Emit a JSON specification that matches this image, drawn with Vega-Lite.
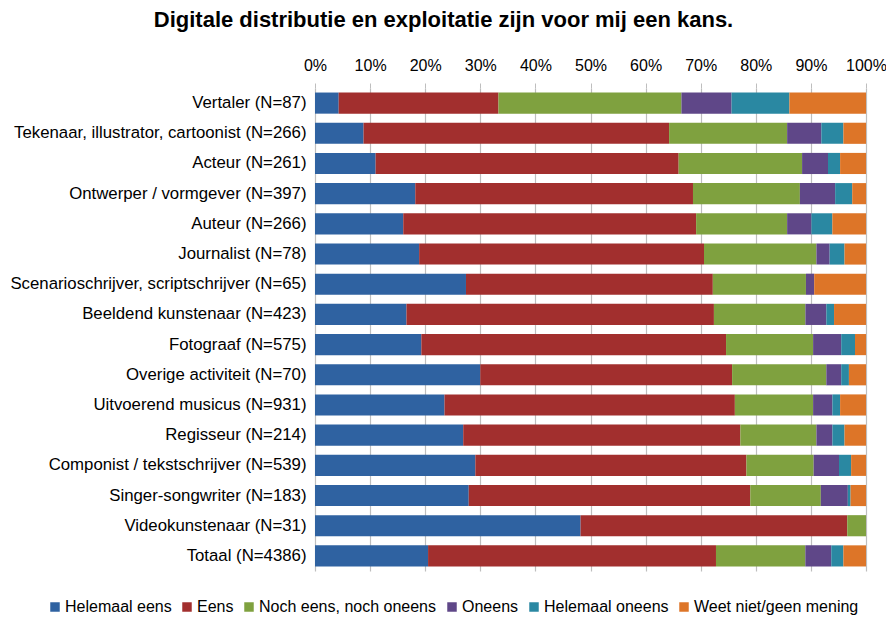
{
  "$schema": "https://vega.github.io/schema/vega-lite/v6.json",
  "width": 551,
  "height": 483,
  "autosize": "none",
  "padding": {"left": 315, "top": 88, "right": 20, "bottom": 52},
  "background": "white",
  "title": {
    "text": "Digitale distributie en exploitatie zijn voor mij een kans.",
    "font": "Liberation Sans",
    "fontSize": 22,
    "fontWeight": "bold",
    "color": "#000000",
    "anchor": "middle",
    "dx": -147,
    "offset": 25
  },
  "datasets": {
    "d": [
      {"cat": "Vertaler (N=87)", "r": 1, "s": "Helemaal eens", "o": 1, "v": 4.3},
      {"cat": "Vertaler (N=87)", "r": 1, "s": "Eens", "o": 2, "v": 29.0},
      {"cat": "Vertaler (N=87)", "r": 1, "s": "Noch eens, noch oneens", "o": 3, "v": 33.2},
      {"cat": "Vertaler (N=87)", "r": 1, "s": "Oneens", "o": 4, "v": 9.1},
      {"cat": "Vertaler (N=87)", "r": 1, "s": "Helemaal oneens", "o": 5, "v": 10.5},
      {"cat": "Vertaler (N=87)", "r": 1, "s": "Weet niet/geen mening", "o": 6, "v": 13.9},

      {"cat": "Tekenaar, illustrator, cartoonist (N=266)", "r": 2, "s": "Helemaal eens", "o": 1, "v": 8.8},
      {"cat": "Tekenaar, illustrator, cartoonist (N=266)", "r": 2, "s": "Eens", "o": 2, "v": 55.4},
      {"cat": "Tekenaar, illustrator, cartoonist (N=266)", "r": 2, "s": "Noch eens, noch oneens", "o": 3, "v": 21.4},
      {"cat": "Tekenaar, illustrator, cartoonist (N=266)", "r": 2, "s": "Oneens", "o": 4, "v": 6.2},
      {"cat": "Tekenaar, illustrator, cartoonist (N=266)", "r": 2, "s": "Helemaal oneens", "o": 5, "v": 4.0},
      {"cat": "Tekenaar, illustrator, cartoonist (N=266)", "r": 2, "s": "Weet niet/geen mening", "o": 6, "v": 4.1},

      {"cat": "Acteur (N=261)", "r": 3, "s": "Helemaal eens", "o": 1, "v": 11.0},
      {"cat": "Acteur (N=261)", "r": 3, "s": "Eens", "o": 2, "v": 55.0},
      {"cat": "Acteur (N=261)", "r": 3, "s": "Noch eens, noch oneens", "o": 3, "v": 22.4},
      {"cat": "Acteur (N=261)", "r": 3, "s": "Oneens", "o": 4, "v": 4.7},
      {"cat": "Acteur (N=261)", "r": 3, "s": "Helemaal oneens", "o": 5, "v": 2.2},
      {"cat": "Acteur (N=261)", "r": 3, "s": "Weet niet/geen mening", "o": 6, "v": 4.7},

      {"cat": "Ontwerper / vormgever (N=397)", "r": 4, "s": "Helemaal eens", "o": 1, "v": 18.2},
      {"cat": "Ontwerper / vormgever (N=397)", "r": 4, "s": "Eens", "o": 2, "v": 50.4},
      {"cat": "Ontwerper / vormgever (N=397)", "r": 4, "s": "Noch eens, noch oneens", "o": 3, "v": 19.4},
      {"cat": "Ontwerper / vormgever (N=397)", "r": 4, "s": "Oneens", "o": 4, "v": 6.4},
      {"cat": "Ontwerper / vormgever (N=397)", "r": 4, "s": "Helemaal oneens", "o": 5, "v": 3.1},
      {"cat": "Ontwerper / vormgever (N=397)", "r": 4, "s": "Weet niet/geen mening", "o": 6, "v": 2.5},

      {"cat": "Auteur (N=266)", "r": 5, "s": "Helemaal eens", "o": 1, "v": 16.0},
      {"cat": "Auteur (N=266)", "r": 5, "s": "Eens", "o": 2, "v": 53.1},
      {"cat": "Auteur (N=266)", "r": 5, "s": "Noch eens, noch oneens", "o": 3, "v": 16.5},
      {"cat": "Auteur (N=266)", "r": 5, "s": "Oneens", "o": 4, "v": 4.4},
      {"cat": "Auteur (N=266)", "r": 5, "s": "Helemaal oneens", "o": 5, "v": 3.8},
      {"cat": "Auteur (N=266)", "r": 5, "s": "Weet niet/geen mening", "o": 6, "v": 6.1},

      {"cat": "Journalist (N=78)", "r": 6, "s": "Helemaal eens", "o": 1, "v": 18.9},
      {"cat": "Journalist (N=78)", "r": 6, "s": "Eens", "o": 2, "v": 51.7},
      {"cat": "Journalist (N=78)", "r": 6, "s": "Noch eens, noch oneens", "o": 3, "v": 20.4},
      {"cat": "Journalist (N=78)", "r": 6, "s": "Oneens", "o": 4, "v": 2.4},
      {"cat": "Journalist (N=78)", "r": 6, "s": "Helemaal oneens", "o": 5, "v": 2.7},
      {"cat": "Journalist (N=78)", "r": 6, "s": "Weet niet/geen mening", "o": 6, "v": 3.9},

      {"cat": "Scenarioschrijver, scriptschrijver (N=65)", "r": 7, "s": "Helemaal eens", "o": 1, "v": 27.4},
      {"cat": "Scenarioschrijver, scriptschrijver (N=65)", "r": 7, "s": "Eens", "o": 2, "v": 44.8},
      {"cat": "Scenarioschrijver, scriptschrijver (N=65)", "r": 7, "s": "Noch eens, noch oneens", "o": 3, "v": 16.9},
      {"cat": "Scenarioschrijver, scriptschrijver (N=65)", "r": 7, "s": "Oneens", "o": 4, "v": 1.5},
      {"cat": "Scenarioschrijver, scriptschrijver (N=65)", "r": 7, "s": "Helemaal oneens", "o": 5, "v": 0},
      {"cat": "Scenarioschrijver, scriptschrijver (N=65)", "r": 7, "s": "Weet niet/geen mening", "o": 6, "v": 9.4},

      {"cat": "Beeldend kunstenaar (N=423)", "r": 8, "s": "Helemaal eens", "o": 1, "v": 16.6},
      {"cat": "Beeldend kunstenaar (N=423)", "r": 8, "s": "Eens", "o": 2, "v": 55.8},
      {"cat": "Beeldend kunstenaar (N=423)", "r": 8, "s": "Noch eens, noch oneens", "o": 3, "v": 16.6},
      {"cat": "Beeldend kunstenaar (N=423)", "r": 8, "s": "Oneens", "o": 4, "v": 3.8},
      {"cat": "Beeldend kunstenaar (N=423)", "r": 8, "s": "Helemaal oneens", "o": 5, "v": 1.4},
      {"cat": "Beeldend kunstenaar (N=423)", "r": 8, "s": "Weet niet/geen mening", "o": 6, "v": 5.8},

      {"cat": "Fotograaf (N=575)", "r": 9, "s": "Helemaal eens", "o": 1, "v": 19.3},
      {"cat": "Fotograaf (N=575)", "r": 9, "s": "Eens", "o": 2, "v": 55.3},
      {"cat": "Fotograaf (N=575)", "r": 9, "s": "Noch eens, noch oneens", "o": 3, "v": 15.8},
      {"cat": "Fotograaf (N=575)", "r": 9, "s": "Oneens", "o": 4, "v": 5.1},
      {"cat": "Fotograaf (N=575)", "r": 9, "s": "Helemaal oneens", "o": 5, "v": 2.5},
      {"cat": "Fotograaf (N=575)", "r": 9, "s": "Weet niet/geen mening", "o": 6, "v": 2.0},

      {"cat": "Overige activiteit (N=70)", "r": 10, "s": "Helemaal eens", "o": 1, "v": 30.0},
      {"cat": "Overige activiteit (N=70)", "r": 10, "s": "Eens", "o": 2, "v": 45.7},
      {"cat": "Overige activiteit (N=70)", "r": 10, "s": "Noch eens, noch oneens", "o": 3, "v": 17.1},
      {"cat": "Overige activiteit (N=70)", "r": 10, "s": "Oneens", "o": 4, "v": 2.7},
      {"cat": "Overige activiteit (N=70)", "r": 10, "s": "Helemaal oneens", "o": 5, "v": 1.4},
      {"cat": "Overige activiteit (N=70)", "r": 10, "s": "Weet niet/geen mening", "o": 6, "v": 3.1},

      {"cat": "Uitvoerend musicus (N=931)", "r": 11, "s": "Helemaal eens", "o": 1, "v": 23.5},
      {"cat": "Uitvoerend musicus (N=931)", "r": 11, "s": "Eens", "o": 2, "v": 52.7},
      {"cat": "Uitvoerend musicus (N=931)", "r": 11, "s": "Noch eens, noch oneens", "o": 3, "v": 14.2},
      {"cat": "Uitvoerend musicus (N=931)", "r": 11, "s": "Oneens", "o": 4, "v": 3.5},
      {"cat": "Uitvoerend musicus (N=931)", "r": 11, "s": "Helemaal oneens", "o": 5, "v": 1.4},
      {"cat": "Uitvoerend musicus (N=931)", "r": 11, "s": "Weet niet/geen mening", "o": 6, "v": 4.7},

      {"cat": "Regisseur (N=214)", "r": 12, "s": "Helemaal eens", "o": 1, "v": 26.9},
      {"cat": "Regisseur (N=214)", "r": 12, "s": "Eens", "o": 2, "v": 50.3},
      {"cat": "Regisseur (N=214)", "r": 12, "s": "Noch eens, noch oneens", "o": 3, "v": 13.8},
      {"cat": "Regisseur (N=214)", "r": 12, "s": "Oneens", "o": 4, "v": 2.9},
      {"cat": "Regisseur (N=214)", "r": 12, "s": "Helemaal oneens", "o": 5, "v": 2.2},
      {"cat": "Regisseur (N=214)", "r": 12, "s": "Weet niet/geen mening", "o": 6, "v": 3.9},

      {"cat": "Componist / tekstschrijver (N=539)", "r": 13, "s": "Helemaal eens", "o": 1, "v": 29.1},
      {"cat": "Componist / tekstschrijver (N=539)", "r": 13, "s": "Eens", "o": 2, "v": 49.2},
      {"cat": "Componist / tekstschrijver (N=539)", "r": 13, "s": "Noch eens, noch oneens", "o": 3, "v": 12.2},
      {"cat": "Componist / tekstschrijver (N=539)", "r": 13, "s": "Oneens", "o": 4, "v": 4.6},
      {"cat": "Componist / tekstschrijver (N=539)", "r": 13, "s": "Helemaal oneens", "o": 5, "v": 2.2},
      {"cat": "Componist / tekstschrijver (N=539)", "r": 13, "s": "Weet niet/geen mening", "o": 6, "v": 2.7},

      {"cat": "Singer-songwriter (N=183)", "r": 14, "s": "Helemaal eens", "o": 1, "v": 27.9},
      {"cat": "Singer-songwriter (N=183)", "r": 14, "s": "Eens", "o": 2, "v": 51.1},
      {"cat": "Singer-songwriter (N=183)", "r": 14, "s": "Noch eens, noch oneens", "o": 3, "v": 12.8},
      {"cat": "Singer-songwriter (N=183)", "r": 14, "s": "Oneens", "o": 4, "v": 4.9},
      {"cat": "Singer-songwriter (N=183)", "r": 14, "s": "Helemaal oneens", "o": 5, "v": 0.5},
      {"cat": "Singer-songwriter (N=183)", "r": 14, "s": "Weet niet/geen mening", "o": 6, "v": 2.8},

      {"cat": "Videokunstenaar (N=31)", "r": 15, "s": "Helemaal eens", "o": 1, "v": 48.2},
      {"cat": "Videokunstenaar (N=31)", "r": 15, "s": "Eens", "o": 2, "v": 48.4},
      {"cat": "Videokunstenaar (N=31)", "r": 15, "s": "Noch eens, noch oneens", "o": 3, "v": 3.4},
      {"cat": "Videokunstenaar (N=31)", "r": 15, "s": "Oneens", "o": 4, "v": 0},
      {"cat": "Videokunstenaar (N=31)", "r": 15, "s": "Helemaal oneens", "o": 5, "v": 0},
      {"cat": "Videokunstenaar (N=31)", "r": 15, "s": "Weet niet/geen mening", "o": 6, "v": 0},

      {"cat": "Totaal (N=4386)", "r": 16, "s": "Helemaal eens", "o": 1, "v": 20.5},
      {"cat": "Totaal (N=4386)", "r": 16, "s": "Eens", "o": 2, "v": 52.2},
      {"cat": "Totaal (N=4386)", "r": 16, "s": "Noch eens, noch oneens", "o": 3, "v": 16.2},
      {"cat": "Totaal (N=4386)", "r": 16, "s": "Oneens", "o": 4, "v": 4.7},
      {"cat": "Totaal (N=4386)", "r": 16, "s": "Helemaal oneens", "o": 5, "v": 2.2},
      {"cat": "Totaal (N=4386)", "r": 16, "s": "Weet niet/geen mening", "o": 6, "v": 4.1}
    ]
  },
  "data": {"name": "d"},
  "mark": {"type": "bar", "stroke": null},
  "encoding": {
    "y": {
      "field": "cat",
      "type": "nominal",
      "sort": {"field": "r", "op": "min", "order": "ascending"},
      "scale": {"paddingInner": 0.3, "paddingOuter": 0.15},
      "axis": {
        "title": null,
        "domain": false,
        "ticks": false,
        "grid": false,
        "labelFont": "Liberation Sans",
        "labelFontSize": 16.8,
        "labelColor": "#000000",
        "labelPadding": 9,
        "labelLimit": 320
      }
    },
    "x": {
      "field": "v",
      "type": "quantitative",
      "stack": "normalize",
      "scale": {"domain": [0, 1], "nice": false},
      "axis": {
        "orient": "top",
        "title": null,
        "format": ".0%",
        "values": [0, 0.1, 0.2, 0.3, 0.4, 0.5, 0.6, 0.7, 0.8, 0.9, 1],
        "domain": false,
        "grid": true,
        "gridColor": "#BEBEBE",
        "gridWidth": 1.2,
        "tickColor": "#BEBEBE",
        "tickSize": 5,
        "labelFlush": false,
        "labelOverlap": false,
        "labelFont": "Liberation Sans",
        "labelFontSize": 16,
        "labelColor": "#000000",
        "labelPadding": 10
      }
    },
    "color": {
      "field": "s",
      "type": "nominal",
      "sort": ["Helemaal eens", "Eens", "Noch eens, noch oneens", "Oneens", "Helemaal oneens", "Weet niet/geen mening"],
      "scale": {
        "domain": ["Helemaal eens", "Eens", "Noch eens, noch oneens", "Oneens", "Helemaal oneens", "Weet niet/geen mening"],
        "range": ["#2F62A1", "#A22F2E", "#7FA13F", "#5F4788", "#2A88A2", "#DD7528"]
      },
      "legend": {
        "orient": "none",
        "direction": "horizontal",
        "legendX": -268,
        "legendY": 511,
        "title": null,
        "symbolType": "square",
        "symbolSize": 90,
        "symbolStrokeWidth": 0,
        "labelFont": "Liberation Sans",
        "labelFontSize": 16,
        "labelLimit": 400,
        "labelColor": "#000000",
        "labelOffset": 2,
        "columnPadding": 7
      }
    },
    "order": {"field": "o", "type": "quantitative", "sort": "ascending"}
  },
  "config": {"view": {"stroke": null}}
}
